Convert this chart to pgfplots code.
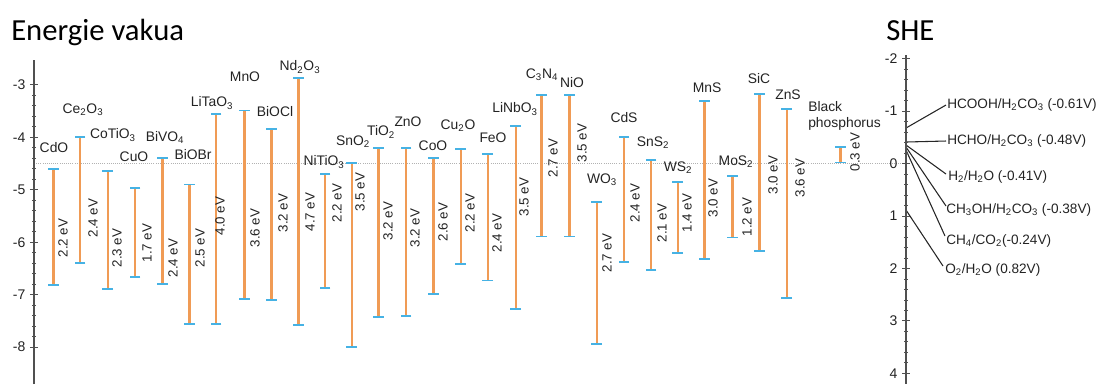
\documentclass[border=0pt]{standalone}
\usepackage{fontspec}
\setmainfont{Liberation Sans}
\newfontfamily\titlefont{Carlito}
\usepackage{pgfplots}
\pgfplotsset{compat=1.18}
\definecolor{barorange}{RGB}{240,155,85}
\definecolor{capblue}{RGB}{70,178,228}
\definecolor{txt}{RGB}{35,35,35}
\definecolor{axgray}{RGB}{80,80,80}
\newcommand{\sub}[1]{\textsubscript{#1}}
\def\py#1{-4.5-(#1-163.5)/52.46}
\begin{document}
\begin{tikzpicture}
\pgfplotsset{
  bar/.style={barorange, line width=1.8pt, mark=-, mark size=4pt, mark options={capblue, line width=1.4pt}},
}
\tikzset{
  lab/.style={font=\fontsize{10.4}{12}\selectfont, text=txt, inner sep=0pt},
  ev/.style={font=\fontsize{10}{11}\selectfont, text=txt, inner sep=0pt, rotate=90},
  rx/.style={font=\fontsize{10.2}{12}\selectfont, text=txt, inner sep=0pt, anchor=west},
}
\begin{axis}[at={(0pt,0pt)}, anchor=south west, scale only axis,
  width=828pt, height=288pt, xmin=0, xmax=1104, ymin=-8.703, ymax=-1.383,
  axis lines=none, clip=false]
\path (axis cs:0,-8.703) rectangle (axis cs:1104,-1.383);
% reference level
\addplot[gray!60, densely dotted, line width=0.6pt] coordinates {(34,-4.5) (906,-4.5)};
% band edges (top = CB, bottom = VB), vacuum scale in eV
\addplot[bar] coordinates {(53.3,-4.61) (53.3,-6.82)};
\addplot[bar] coordinates {(80,-4.00) (80,-6.40)};
\addplot[bar] coordinates {(107.7,-4.64) (107.7,-6.89)};
\addplot[bar] coordinates {(135,-4.96) (135,-6.66)};
\addplot[bar] coordinates {(162.3,-4.40) (162.3,-6.80)};
\addplot[bar] coordinates {(189.3,-4.90) (189.3,-7.56)};
\addplot[bar] coordinates {(216,-3.55) (216,-7.56)};
\addplot[bar] coordinates {(244.3,-3.49) (244.3,-7.08)};
\addplot[bar] coordinates {(271.3,-3.84) (271.3,-7.10)};
\addplot[bar] coordinates {(298.3,-2.87) (298.3,-7.58)};
\addplot[bar] coordinates {(325,-4.70) (325,-6.88)};
\addplot[bar] coordinates {(351.7,-4.49) (351.7,-7.99)};
\addplot[bar] coordinates {(378.3,-4.21) (378.3,-7.42)};
\addplot[bar] coordinates {(406,-4.20) (406,-7.40)};
\addplot[bar] coordinates {(433.3,-4.39) (433.3,-6.99)};
\addplot[bar] coordinates {(460.7,-4.22) (460.7,-6.42)};
\addplot[bar] coordinates {(487.7,-4.32) (487.7,-6.73)};
\addplot[bar] coordinates {(515.7,-3.78) (515.7,-7.27)};
\addplot[bar] coordinates {(541.5,-3.19) (541.5,-5.89)};
\addplot[bar] coordinates {(569.3,-3.20) (569.3,-5.89)};
\addplot[bar] coordinates {(596.7,-5.24) (596.7,-7.94)};
\addplot[bar] coordinates {(624,-3.99) (624,-6.37)};
\addplot[bar] coordinates {(651,-4.43) (651,-6.53)};
\addplot[bar] coordinates {(677.7,-4.86) (677.7,-6.21)};
\addplot[bar] coordinates {(704.3,-3.31) (704.3,-6.32)};
\addplot[bar] coordinates {(732.3,-4.73) (732.3,-5.91)};
\addplot[bar] coordinates {(759.3,-3.17) (759.3,-6.16)};
\addplot[bar] coordinates {(786.7,-3.46) (786.7,-7.06)};
\addplot[bar] coordinates {(840.5,-4.19) (840.5,-4.48)};
% material names
\node[lab] at (axis cs:54,{\py{148}}) {CdO};
\node[lab] at (axis cs:83,{\py{110}}) {Ce\sub{2}O\sub{3}};
\node[lab] at (axis cs:113,{\py{135}}) {CoTiO\sub{3}};
\node[lab] at (axis cs:134,{\py{157}}) {CuO};
\node[lab] at (axis cs:165,{\py{137}}) {BiVO\sub{4}};
\node[lab] at (axis cs:193,{\py{155}}) {BiOBr};
\node[lab] at (axis cs:212,{\py{103}}) {LiTaO\sub{3}};
\node[lab] at (axis cs:245,{\py{77}}) {MnO};
\node[lab] at (axis cs:275,{\py{112}}) {BiOCl};
\node[lab] at (axis cs:300,{\py{67}}) {Nd\sub{2}O\sub{3}};
\node[lab] at (axis cs:324,{\py{162}}) {NiTiO\sub{3}};
\node[lab] at (axis cs:353,{\py{142}}) {SnO\sub{2}};
\node[lab] at (axis cs:381,{\py{132}}) {TiO\sub{2}};
\node[lab] at (axis cs:408,{\py{122}}) {ZnO};
\node[lab] at (axis cs:433,{\py{146}}) {CoO};
\node[lab] at (axis cs:458,{\py{126}}) {Cu\sub{2}O};
\node[lab] at (axis cs:493,{\py{138}}) {FeO};
\node[lab] at (axis cs:515,{\py{109}}) {LiNbO\sub{3}};
\node[lab] at (axis cs:542,{\py{75}}) {C\sub{3}N\sub{4}};
\node[lab] at (axis cs:572,{\py{83}}) {NiO};
\node[lab] at (axis cs:602,{\py{180}}) {WO\sub{3}};
\node[lab] at (axis cs:624,{\py{118}}) {CdS};
\node[lab] at (axis cs:653,{\py{143}}) {SnS\sub{2}};
\node[lab] at (axis cs:678,{\py{168}}) {WS\sub{2}};
\node[lab] at (axis cs:707,{\py{88}}) {MnS};
\node[lab] at (axis cs:736,{\py{162}}) {MoS\sub{2}};
\node[lab] at (axis cs:759,{\py{79}}) {SiC};
\node[lab] at (axis cs:788,{\py{95}}) {ZnS};
\node[lab, anchor=west] at (axis cs:808,{\py{107}}) {Black};
\node[lab, anchor=west] at (axis cs:808,{\py{124}}) {phosphorus};
% band gaps
\node[ev] at (axis cs:63,{\py{238}}) {2.2 eV};
\node[ev] at (axis cs:93,{\py{218}}) {2.4 eV};
\node[ev] at (axis cs:117,{\py{248}}) {2.3 eV};
\node[ev] at (axis cs:147,{\py{243}}) {1.7 eV};
\node[ev] at (axis cs:173,{\py{258}}) {2.4 eV};
\node[ev] at (axis cs:200,{\py{248}}) {2.5 eV};
\node[ev] at (axis cs:220,{\py{216}}) {4.0 eV};
\node[ev] at (axis cs:255,{\py{228}}) {3.6 eV};
\node[ev] at (axis cs:283,{\py{213}}) {3.2 eV};
\node[ev] at (axis cs:310,{\py{212}}) {4.7 eV};
\node[ev] at (axis cs:337,{\py{203}}) {2.2 eV};
\node[ev] at (axis cs:360,{\py{192}}) {3.5 eV};
\node[ev] at (axis cs:388,{\py{221}}) {3.2 eV};
\node[ev] at (axis cs:415,{\py{228}}) {3.2 eV};
\node[ev] at (axis cs:443,{\py{222}}) {2.6 eV};
\node[ev] at (axis cs:470,{\py{213}}) {2.2 eV};
\node[ev] at (axis cs:497,{\py{233}}) {2.4 eV};
\node[ev] at (axis cs:524,{\py{197}}) {3.5 eV};
\node[ev] at (axis cs:553,{\py{158}}) {2.7 eV};
\node[ev] at (axis cs:582,{\py{143}}) {3.5 eV};
\node[ev] at (axis cs:607,{\py{253}}) {2.7 eV};
\node[ev] at (axis cs:635,{\py{203}}) {2.4 eV};
\node[ev] at (axis cs:662,{\py{223}}) {2.1 eV};
\node[ev] at (axis cs:687,{\py{213}}) {1.4 eV};
\node[ev] at (axis cs:713,{\py{198}}) {3.0 eV};
\node[ev] at (axis cs:747,{\py{217}}) {1.2 eV};
\node[ev] at (axis cs:773,{\py{175}}) {3.0 eV};
\node[ev] at (axis cs:800,{\py{178}}) {3.6 eV};
\node[ev] at (axis cs:855,{\py{152}}) {0.3 eV};
% redox leaders
\draw[black!85, line width=0.8pt] (axis cs:906,{\py{128}}) -- (axis cs:946,{\py{105}});
\draw[black!85, line width=0.8pt] (axis cs:906,{\py{142}}) -- (axis cs:946,{\py{141}});
\draw[black!85, line width=0.8pt] (axis cs:906,{\py{145}}) -- (axis cs:946,{\py{174}});
\draw[black!85, line width=0.8pt] (axis cs:906,{\py{147}}) -- (axis cs:946,{\py{206}});
\draw[black!85, line width=0.8pt] (axis cs:906,{\py{150}}) -- (axis cs:945,{\py{236}});
\draw[black!85, line width=0.8pt] (axis cs:906,{\py{210}}) -- (axis cs:943,{\py{266}});
\node[rx] at (axis cs:947,{\py{105}}) {HCOOH/H\sub{2}CO\sub{3} (-0.61V)};
\node[rx] at (axis cs:947,{\py{141}}) {HCHO/H\sub{2}CO\sub{3} (-0.48V)};
\node[rx] at (axis cs:948,{\py{177}}) {H\sub{2}/H\sub{2}O (-0.41V)};
\node[rx] at (axis cs:946,{\py{210}}) {CH\sub{3}OH/H\sub{2}CO\sub{3} (-0.38V)};
\node[rx] at (axis cs:946,{\py{241}}) {CH\sub{4}/CO\sub{2}(-0.24V)};
\node[rx] at (axis cs:945,{\py{270}}) {O\sub{2}/H\sub{2}O (0.82V)};
% titles
\node[anchor=base west, inner sep=0pt, font=\titlefont\fontsize{23}{26}\selectfont] at (axis cs:11,{\py{40}}) {Energie vakua};
\node[anchor=base west, inner sep=0pt, font=\titlefont\fontsize{23}{26}\selectfont] at (axis cs:886,{\py{40}}) {SHE};
\end{axis}
% vacuum scale axis
\begin{axis}[at={(25.5pt,0pt)}, anchor=south west, scale only axis,
  width=10pt, height=243pt, xmin=0, xmax=1, ymin=-8.703, ymax=-2.527,
  axis x line=none, axis y line=left, y axis line style={-, axgray, line width=0.8pt},
  ytick={-8,-7,-6,-5,-4,-3}, minor y tick num=4, tick align=center,
  major tick length=6pt, minor tick length=3pt, tick style={axgray, line width=0.6pt},
  yticklabel style={font=\fontsize{10.5}{12}\selectfont, text=txt},
  /pgf/number format/assume math mode=true]
\addplot[draw=none] coordinates {(0,-5)};
\end{axis}
% SHE axis
\begin{axis}[at={(679.5pt,0pt)}, anchor=south west, scale only axis,
  width=10pt, height=246.75pt, xmin=0, xmax=1, ymin=-2.068, ymax=4.203, y dir=reverse,
  axis x line=none, axis y line=left, y axis line style={-, axgray, line width=0.8pt},
  ytick={-2,-1,0,1,2,3,4}, minor y tick num=4, tick align=center,
  major tick length=6pt, minor tick length=3pt, tick style={axgray, line width=0.6pt},
  yticklabel style={font=\fontsize{10.5}{12}\selectfont, text=txt},
  /pgf/number format/assume math mode=true]
\addplot[draw=none] coordinates {(0,0)};
\end{axis}
\end{tikzpicture}
\end{document}
